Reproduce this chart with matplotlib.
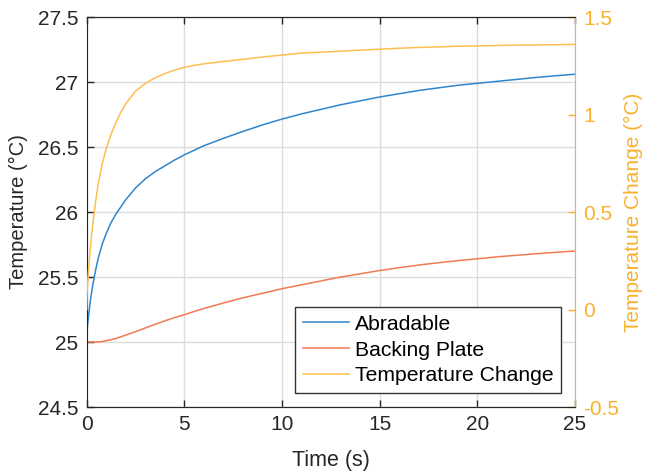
import matplotlib
matplotlib.use("Agg")
import matplotlib.pyplot as plt

plt.rcParams['font.family'] = ['Liberation Sans', 'DejaVu Sans']

time_s = [0, 0.02, 0.05, 0.1, 0.15, 0.2, 0.3, 0.4, 0.5, 0.6, 0.8, 1.0, 1.25, 1.5, 1.75,
          2.0, 2.5, 3.0, 3.5, 4.0, 4.5, 5.0, 5.5, 6.0, 7.0, 8.0, 9.0, 10.0, 11.0, 12.0,
          13.0, 14.0, 15.0, 16.0, 17.0, 18.0, 19.0, 20.0, 21.0, 22.0, 23.0, 24.0, 25.0]
abradable = [25.0, 25.09, 25.14, 25.21, 25.27, 25.33, 25.43, 25.51, 25.585, 25.65, 25.755,
             25.835, 25.92, 25.985, 26.04, 26.095, 26.185, 26.255, 26.31, 26.355, 26.40,
             26.44, 26.475, 26.51, 26.567, 26.62, 26.67, 26.715, 26.755, 26.79,
             26.825, 26.855, 26.885, 26.91, 26.935, 26.955, 26.975, 26.99, 27.005,
             27.02, 27.035, 27.048, 27.06]
backing_plate = [25.0, 25.0, 25.0, 25.0, 25.0, 25.0, 25.0, 25.0, 25.0, 25.001, 25.004,
                 25.01, 25.018, 25.028, 25.04, 25.053, 25.08, 25.108, 25.136, 25.163,
                 25.188, 25.21, 25.235, 25.258, 25.30, 25.34, 25.375, 25.41, 25.44, 25.47,
                 25.50, 25.525, 25.55, 25.572, 25.592, 25.61, 25.626, 25.64, 25.655,
                 25.667, 25.679, 25.69, 25.70]
temp_change = [0.0, 0.09, 0.14, 0.21, 0.27, 0.33, 0.43, 0.51, 0.585, 0.65, 0.75,
               0.825, 0.90, 0.96, 1.012, 1.055, 1.12, 1.16, 1.188, 1.21, 1.228,
               1.242, 1.252, 1.26, 1.272, 1.283, 1.295, 1.305, 1.315, 1.32,
               1.325, 1.33, 1.335, 1.34, 1.344, 1.347, 1.35, 1.352, 1.354,
               1.356, 1.357, 1.358, 1.36]

left_ticks = [24.5, 25, 25.5, 26, 26.5, 27, 27.5]
left_labels = ['24.5', '25', '25.5', '26', '26.5', '27', '27.5']
right_ticks = [-0.5, 0, 0.5, 1, 1.5]
right_labels = ['-0.5', '0', '0.5', '1', '1.5']
x_ticks = [0, 5, 10, 15, 20, 25]

c_blue = '#2F86CC'
c_orange = '#F07A52'
c_yellow = '#FDBF50'
c_axis_y = '#F9B12E'
c_dark = '#262626'

fig = plt.figure(figsize=(6.49, 4.73), dpi=100)
ax = fig.add_axes([0.1336, 0.1395, 0.7524, 0.8245])
ax2 = ax.twinx()

l1, = ax.plot(time_s, abradable, color=c_blue, lw=1.1, label='Abradable')
l2, = ax.plot(time_s, backing_plate, color=c_orange, lw=1.1, label='Backing Plate')
l3, = ax2.plot(time_s, temp_change, color=c_yellow, lw=1.1, label='Temperature Change')

ax.set_xlim(0, 25)
ax.set_ylim(24.5, 27.5)
ax2.set_ylim(-0.5, 1.5)
ax.set_xticks(x_ticks)
ax.set_xticklabels([str(v) for v in x_ticks])
ax.set_yticks(left_ticks)
ax.set_yticklabels(left_labels)
ax2.set_yticks(right_ticks)
ax2.set_yticklabels(right_labels)

ax.grid(True, color='#DCDCDC', lw=1.0)
ax.set_axisbelow(True)

ax.tick_params(axis='both', direction='in', labelsize=15, colors=c_dark, length=5,
               width=1.0, top=True, pad=6)
ax.tick_params(axis='y', right=False)
ax2.tick_params(axis='y', direction='in', labelsize=15, colors=c_axis_y, length=5,
                width=1.0, pad=6)

for s in ['left', 'bottom', 'top']:
    ax.spines[s].set_color(c_dark)
    ax2.spines[s].set_color(c_dark)
ax2.spines['right'].set_color(c_axis_y)
ax.spines['right'].set_visible(False)
ax2.spines['left'].set_visible(False)

ax.set_xlabel('Time (s)', fontsize=15.5, color=c_dark)
ax.set_ylabel('Temperature (°C)', fontsize=14.5, color=c_dark)
ax2.set_ylabel('Temperature Change (°C)', fontsize=15, color=c_axis_y, rotation=90)
ax.xaxis.set_label_coords(0.5, -0.11)
ax.yaxis.set_label_coords(-0.12, 0.5)
ax2.yaxis.set_label_coords(1.10, 0.5)

leg = ax2.legend(handles=[l1, l2, l3], loc='lower right', fontsize=15.2,
                 frameon=True, fancybox=False, edgecolor='#333333',
                 handlelength=2.2, handletextpad=0.25, borderpad=0.38,
                 labelspacing=0.32, borderaxespad=0.65)
leg.get_frame().set_linewidth(1.0)
leg.get_frame().set_alpha(1.0)

fig.savefig('out.png', dpi=100)
